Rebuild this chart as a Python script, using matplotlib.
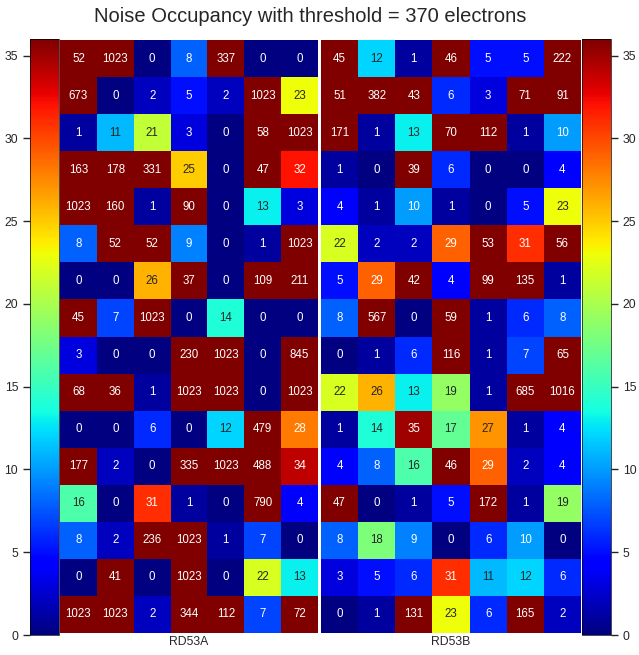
import numpy as np
import matplotlib
matplotlib.use('Agg')
import matplotlib.pyplot as plt
import seaborn as sns

# Noise occupancy per region, rows listed top to bottom
rd53a = [
    [52, 1023, 0, 8, 337, 0, 0],
    [673, 0, 2, 5, 2, 1023, 23],
    [1, 11, 21, 3, 0, 58, 1023],
    [163, 178, 331, 25, 0, 47, 32],
    [1023, 160, 1, 90, 0, 13, 3],
    [8, 52, 52, 9, 0, 1, 1023],
    [0, 0, 26, 37, 0, 109, 211],
    [45, 7, 1023, 0, 14, 0, 0],
    [3, 0, 0, 230, 1023, 0, 845],
    [68, 36, 1, 1023, 1023, 0, 1023],
    [0, 0, 6, 0, 12, 479, 28],
    [177, 2, 0, 335, 1023, 488, 34],
    [16, 0, 31, 1, 0, 790, 4],
    [8, 2, 236, 1023, 1, 7, 0],
    [0, 41, 0, 1023, 0, 22, 13],
    [1023, 1023, 2, 344, 112, 7, 72],
]
rd53b = [
    [45, 12, 1, 46, 5, 5, 222],
    [51, 382, 43, 6, 3, 71, 91],
    [171, 1, 13, 70, 112, 1, 10],
    [1, 0, 39, 6, 0, 0, 4],
    [4, 1, 10, 1, 0, 5, 23],
    [22, 2, 2, 29, 53, 31, 56],
    [5, 29, 42, 4, 99, 135, 1],
    [8, 567, 0, 59, 1, 6, 8],
    [0, 1, 6, 116, 1, 7, 65],
    [22, 26, 13, 19, 1, 685, 1016],
    [1, 14, 35, 17, 27, 1, 4],
    [4, 8, 16, 46, 29, 2, 4],
    [47, 0, 1, 5, 172, 1, 19],
    [8, 18, 9, 0, 6, 10, 0],
    [3, 5, 6, 31, 11, 12, 6],
    [0, 1, 131, 23, 6, 165, 2],
]
labels = ['RD53A', 'RD53B']
threshold = 370
vmin, vmax = 0, 36

plt.rcParams['font.family'] = ['Liberation Sans', 'DejaVu Sans']

W, H = 639, 655
fig = plt.figure(figsize=(W / 100, H / 100), dpi=100)


def box(x0, x1, y0, y1):
    # pixel box -> figure fraction
    return [x0 / W, (H - y1) / H, (x1 - x0) / W, (y1 - y0) / H]


cax_l = fig.add_axes(box(30, 59, 39, 635))
ax_l = fig.add_axes(box(60, 318, 40, 633))
ax_r = fig.add_axes(box(321, 581, 40, 633))
cax_r = fig.add_axes(box(582, 611, 39, 635))

for ax, data, lab in zip([ax_l, ax_r], [rd53a, rd53b], labels):
    sns.heatmap(np.array(data), ax=ax, cmap='jet', vmin=vmin, vmax=vmax,
                annot=True, fmt='d', cbar=False,
                annot_kws={'fontsize': 8.3}, xticklabels=False, yticklabels=False)
    ax.set_xlabel(lab, fontsize=8.8, color='#262626', labelpad=2)
    ax.tick_params(length=0)

mappable = ax_l.collections[0]
for cax, side in [(cax_l, 'left'), (cax_r, 'right')]:
    cb = fig.colorbar(mappable, cax=cax, ticks=[0, 5, 10, 15, 20, 25, 30, 35])
    cax.yaxis.set_ticks_position(side)
    cax.tick_params(labelsize=8.8, colors='#262626', length=5, width=1)
    cb.outline.set_linewidth(0.5)

fig.suptitle(f'Noise Occupancy with threshold = {threshold} electrons',
             fontsize=14.5, color='#262626', x=0.486, y=0.99)

fig.savefig('out.png', dpi=100)
